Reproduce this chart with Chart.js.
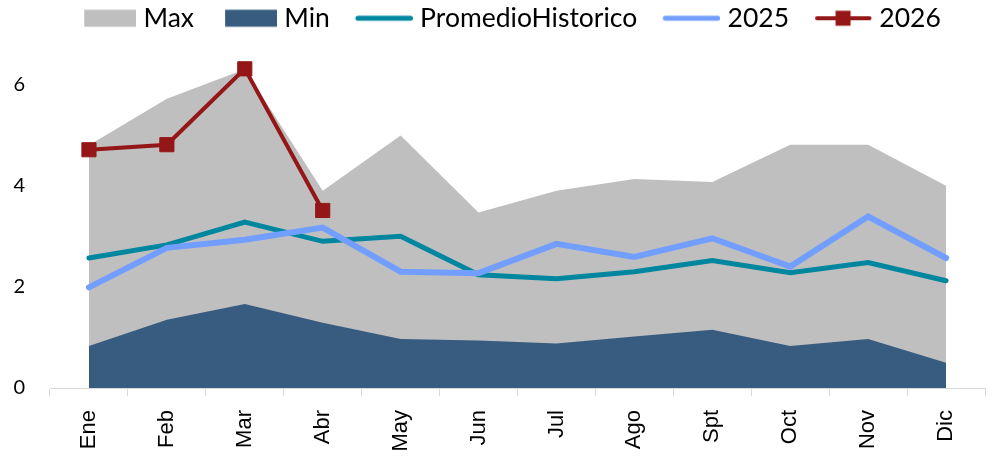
<!DOCTYPE html>
<html>
<head>
<meta charset="utf-8">
<script src="https://cdn.jsdelivr.net/npm/chart.js@4/dist/chart.umd.min.js"></script>
<style>
  html, body { margin: 0; padding: 0; background: #fff; }
  #wrap { width: 996px; height: 458px; }
</style>
</head>
<body>
<div id="wrap"><canvas id="chart"></canvas></div>
<script>
const months = ["Ene", "Feb", "Mar", "Abr", "May", "Jun", "Jul", "Ago", "Spt", "Oct", "Nov", "Dic"];
const maxVals = [4.8, 5.72, 6.3, 3.9, 4.99, 3.47, 3.9, 4.13, 4.07, 4.81, 4.81, 4.0];
const minVals = [0.83, 1.35, 1.66, 1.29, 0.97, 0.94, 0.88, 1.02, 1.15, 0.83, 0.97, 0.5];
const promedio = [2.57, 2.83, 3.28, 2.9, 3.0, 2.24, 2.16, 2.3, 2.52, 2.28, 2.48, 2.12];
const y2025 = [1.99, 2.77, 2.93, 3.17, 2.3, 2.27, 2.85, 2.59, 2.96, 2.4, 3.39, 2.57];
const y2026 = [4.71, 4.81, 6.31, 3.51, null, null, null, null, null, null, null, null];
const yTicks = [0, 2, 4, 6];

const colors = {
  max: "#bfbfbf",
  min: "#375c7f",
  prom: "#00879f",
  y2025: "#729fff",
  y2026: "#941616",
};

// little legend pictures: boxes for the areas, lines for the series
const swatch = (kind, color) => {
  const c = document.createElement("canvas");
  c.width = 84;
  c.height = 20;
  const g = c.getContext("2d");
  if (kind === "box") {
    g.fillStyle = color;
    g.fillRect(32, 1.5, 52, 17);
  } else {
    g.strokeStyle = color;
    g.lineWidth = kind === "marker" ? 4 : 5;
    g.lineCap = "round";
    g.beginPath();
    g.moveTo(29, 10);
    g.lineTo(81.5, 10);
    g.stroke();
    if (kind === "marker") {
      g.fillStyle = color;
      g.fillRect(47.5, 2.5, 15, 15);
    }
  }
  return c;
};

const swatches = [
  swatch("box", colors.max),
  swatch("box", colors.min),
  swatch("line", colors.prom),
  swatch("line", colors.y2025),
  swatch("marker", colors.y2026),
];

const ctx = document.getElementById("chart");
const chart = new Chart(ctx, {
  type: "line",
  data: {
    labels: months,
    datasets: [
      {
        label: "Max",
        data: maxVals,
        fill: "origin",
        backgroundColor: colors.max,
        borderColor: "rgba(0,0,0,0)",
        borderWidth: 0,
        pointRadius: 0,
        order: 5,
      },
      {
        label: "Min",
        data: minVals,
        fill: "origin",
        backgroundColor: colors.min,
        borderColor: "rgba(0,0,0,0)",
        borderWidth: 0,
        pointRadius: 0,
        order: 4,
      },
      {
        label: "PromedioHistorico",
        data: promedio,
        fill: false,
        borderColor: colors.prom,
        borderWidth: 5,
        borderCapStyle: "round",
        pointRadius: 0,
        order: 3,
      },
      {
        label: "2025",
        data: y2025,
        fill: false,
        borderColor: colors.y2025,
        borderWidth: 6,
        borderCapStyle: "round",
        pointRadius: 0,
        order: 2,
      },
      {
        label: "2026",
        data: y2026,
        fill: false,
        borderColor: colors.y2026,
        backgroundColor: colors.y2026,
        borderWidth: 4,
        pointStyle: "rect",
        pointRadius: 10,
        pointBorderWidth: 1,
        pointBorderColor: colors.y2026,
        spanGaps: false,
        order: 1,
      },
    ],
  },
  options: {
    animation: false,
    responsive: true,
    maintainAspectRatio: false,
    layout: { padding: { left: 10, right: 7, top: 0, bottom: 0 } },
    plugins: {
      tooltip: { enabled: false },
      legend: {
        position: "top",
        labels: {
          usePointStyle: true,
          pointStyleWidth: 72,
          padding: 5,
          color: "#000",
          font: { family: "Lato", size: 26.5 },
          generateLabels: (chart) =>
            Chart.defaults.plugins.legend.labels
              .generateLabels(chart)
              .sort((a, b) => a.datasetIndex - b.datasetIndex)
              .map((item) => ({ ...item, pointStyle: swatches[item.datasetIndex] })),
        },
      },
    },
    scales: {
      x: {
        offset: true,
        grid: {
          offset: true,
          drawOnChartArea: false,
          color: "#d9d9d9",
          tickLength: 8,
        },
        border: { color: "#d9d9d9" },
        ticks: {
          autoSkip: false,
          minRotation: 90,
          maxRotation: 90,
          padding: 14,
          color: "#000",
          font: { family: "Liberation Sans", size: 22 },
        },
        afterFit: (s) => {
          s.height = 70;
        },
      },
      y: {
        min: 0,
        max: 6.85,
        afterBuildTicks: (s) => {
          s.ticks = yTicks.map((v) => ({ value: v }));
        },
        grid: { display: false, drawTicks: false },
        border: { display: false },
        ticks: {
          padding: 25,
          color: "#000",
          font: { family: "Lato", size: 20 },
        },
        afterFit: (s) => {
          s.width = 40;
        },
      },
    },
  },
});
</script>
</body>
</html>
